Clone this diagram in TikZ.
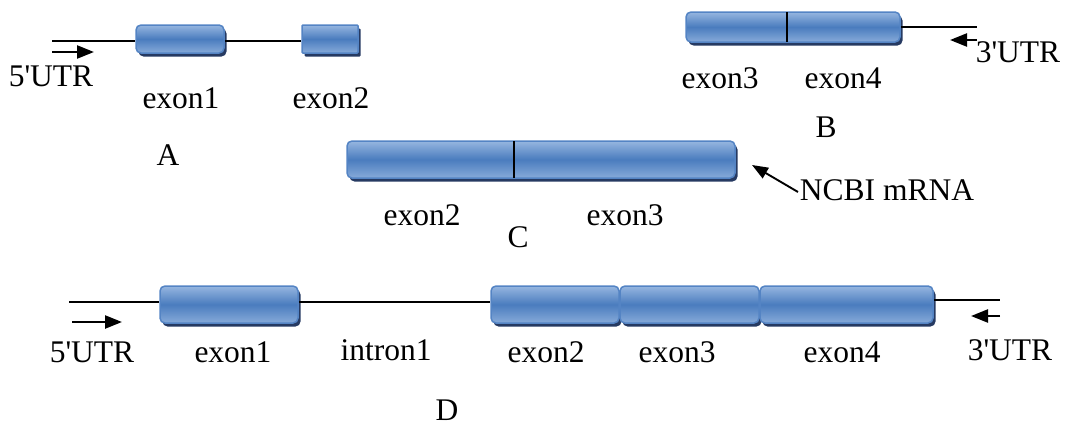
\documentclass[tikz,border=0pt]{standalone}
\usepackage{fontspec}
\setmainfont{Liberation Serif}
\usetikzlibrary{arrows.meta,shadows}
\definecolor{exlight}{RGB}{150,182,224}
\definecolor{exdark}{RGB}{74,124,190}
\definecolor{exborder}{RGB}{84,132,196}
\definecolor{exshadow}{RGB}{38,58,98}
\newcommand{\sq}{\textquotesingle}
\tikzset{
  exon/.style={draw=exborder, line width=1.5pt, rounded corners=5pt,
    top color=exlight, bottom color=exlight!80!exdark, middle color=exdark,
    inner sep=0pt,
    drop shadow={shadow xshift=2.5pt, shadow yshift=-3.5pt, fill=exshadow, opacity=1}},
  strand/.style={line width=1.6pt, black},
  dirarrow/.style={line width=2.4pt, -{Triangle[length=17pt, width=13pt]}},
  lbl/.style={font=\fontsize{31.5}{38}\selectfont, inner sep=0pt, anchor=center},
  divider/.style={line width=1.8pt, black}
}
\begin{document}
\begin{tikzpicture}[x=1pt,y=-1pt]
\useasboundingbox (0,0) rectangle (1065,426);
% ---------- A ----------
\coordinate (aL) at (52,41);
\node[exon, minimum width=88, minimum height=28] (a1) at (180,39) {};
\node[exon, rounded corners=1pt, minimum width=56, minimum height=28] (a2) at (330,39) {};
\draw[strand] (aL) -- (aL -| a1.west);
\draw[strand] (a1.east |- aL) -- (a2.west |- aL);
\coordinate (aA1) at (52,52);
\coordinate (aA2) at (94,52);
\draw[dirarrow] (aA1) -- (aA2);
\node[lbl] (a5) at (51,76) {5\sq UTR};
\node[lbl] (ae1) at (181,98) {exon1};
\node[lbl] (ae2) at (331,98) {exon2};
\node[lbl] (aT) at (168,155) {A};
% ---------- B ----------
\node[exon, minimum width=214, minimum height=30] (b) at (793,27) {};
\draw[divider] (787,12) -- (787,42);
\coordinate (bR) at (977,27);
\draw[strand] (b.east) -- (bR);
\coordinate (bA1) at (977,40);
\coordinate (bA2) at (950,40);
\draw[dirarrow] (bA1) -- (bA2);
\node[lbl] (b3u) at (1018,52) {3\sq UTR};
\node[lbl] (be3) at (720,78) {exon3};
\node[lbl] (be4) at (843,78) {exon4};
\node[lbl] (bT) at (826,127) {B};
% ---------- C ----------
\node[exon, minimum width=388, minimum height=37] (c) at (541,159.5) {};
\draw[divider] (514,141) -- (514,178);
\node[lbl] (cN) at (887,190) {NCBI mRNA};
\coordinate (cTip) at (752,165);
\coordinate (cTail) at (798,192);
\draw[line width=1.9pt, -{Triangle[length=16pt, width=12pt]}] (cTail) -- (cTip);
\node[lbl] (ce2) at (422,215) {exon2};
\node[lbl] (ce3) at (625,215) {exon3};
\node[lbl] (cT) at (518,237) {C};
% ---------- D ----------
\coordinate (dL) at (69,302);
\node[exon, minimum width=138, minimum height=37] (d1) at (229,304.5) {};
\node[exon, minimum width=128, minimum height=37] (d2) at (555,304.5) {};
\node[exon, minimum width=139, minimum height=37] (d3) at (689.5,304.5) {};
\node[exon, minimum width=173, minimum height=37] (d4) at (846.5,304.5) {};
\coordinate (dR) at (1000,300);
\draw[strand] (dL) -- (d1.west |- dL);
\draw[strand] (d1.east |- dL) -- (d2.west |- dL);
\draw[strand] (d4.east |- dR) -- (dR);
\coordinate (dA1) at (72,322);
\coordinate (dA2) at (122,322);
\draw[dirarrow] (dA1) -- (dA2);
\coordinate (dB1) at (1000,316);
\coordinate (dB2) at (971,316);
\draw[dirarrow] (dB1) -- (dB2);
\node[lbl] (d5) at (92,352) {5\sq UTR};
\node[lbl] (de1) at (233,352) {exon1};
\node[lbl] (di1) at (386,350) {intron1};
\node[lbl] (de2) at (546,352) {exon2};
\node[lbl] (de3) at (677,352) {exon3};
\node[lbl] (de4) at (842,352) {exon4};
\node[lbl] (d3u) at (1010,350) {3\sq UTR};
\node[lbl] (dT) at (447,410) {D};
\end{tikzpicture}
\end{document}
